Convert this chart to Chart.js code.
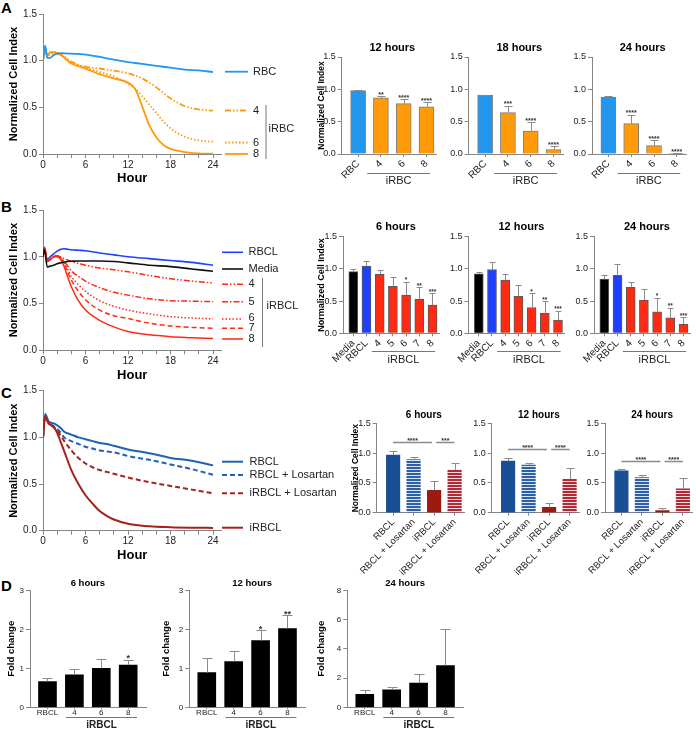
<!DOCTYPE html>
<html><head><meta charset="utf-8"><title>Normalized Cell Index</title>
<script src="https://cdn.jsdelivr.net/npm/chart.js@4.4.1/dist/chart.umd.min.js"></script>
<style>
html,body{margin:0;padding:0;background:#fff;}
#wrap{position:relative;width:696px;height:737px;overflow:hidden;background:#fff;}
#wrap canvas{position:absolute;}
.pl{position:absolute;font:bold 15px 'Liberation Sans',Arial,sans-serif;color:#000;line-height:15px;}
</style></head><body>
<div id="wrap">
<div class="pl" style="left:1px;top:0px">A</div>
<div class="pl" style="left:1px;top:199px">B</div>
<div class="pl" style="left:1px;top:385px">C</div>
<div class="pl" style="left:1px;top:578px">D</div>
</div>
<script>
// ================= DATA =================
// Panel A – line chart
const hoursA   = [0, 0.3, 0.6, 1, 1.5, 2.5, 4, 6, 8, 10, 12, 13, 14, 15, 16, 17, 18, 20, 22, 24];
const lineA_RBC = [1.0, 1.16, 1.03, 1.03, 1.06, 1.08, 1.075, 1.065, 1.04, 1.01, 0.985, 0.975, 0.965, 0.955, 0.945, 0.935, 0.925, 0.905, 0.895, 0.878];
const lineA_i4  = [1.0, 1.12, 1.05, 1.08, 1.09, 1.07, 0.99, 0.935, 0.915, 0.893, 0.864, 0.84, 0.81, 0.765, 0.714, 0.655, 0.596, 0.514, 0.478, 0.464];
const lineA_i6  = [1.0, 1.1, 1.04, 1.07, 1.08, 1.06, 0.98, 0.925, 0.88, 0.83, 0.75, 0.7, 0.62, 0.53, 0.44, 0.35, 0.275, 0.186, 0.145, 0.132];
const lineA_i8  = [1.0, 1.14, 1.06, 1.09, 1.09, 1.06, 0.97, 0.915, 0.855, 0.81, 0.765, 0.7, 0.51, 0.31, 0.18, 0.096, 0.054, 0.02, 0.007, 0.003];
// Panel A – bars
const catsA = ['RBC', '4', '6', '8'];
const barA_12h = [0.98, 0.87, 0.78, 0.73];  const errA_12h = [0.01, 0.03, 0.07, 0.07];  const sigA_12h = ['', '**', '****', '****'];
const barA_18h = [0.91, 0.64, 0.355, 0.067]; const errA_18h = [0.01, 0.11, 0.135, 0.055]; const sigA_18h = ['', '***', '****', '****'];
const barA_24h = [0.88, 0.47, 0.13, 0.005];  const errA_24h = [0.01, 0.14, 0.09, 0.01];   const sigA_24h = ['', '****', '****', '****'];
// Panel B – line chart
const hoursB    = [0, 0.2, 0.6, 1, 1.5, 2, 2.5, 3, 3.5, 4, 5, 6, 8, 10, 12, 15, 18, 21, 24];
const lineB_RBCL  = [1.0, 1.1, 0.97, 1.0, 1.03, 1.06, 1.08, 1.085, 1.08, 1.075, 1.07, 1.065, 1.04, 1.02, 1.0, 0.98, 0.96, 0.94, 0.91];
const lineB_Media = [1.0, 1.08, 0.89, 0.9, 0.91, 0.925, 0.935, 0.945, 0.95, 0.952, 0.955, 0.955, 0.955, 0.95, 0.935, 0.91, 0.895, 0.87, 0.845];
const lineB_i4 = [1.0, 1.1, 0.95, 0.97, 1.0, 1.01, 1.0, 0.98, 0.965, 0.95, 0.93, 0.91, 0.88, 0.86, 0.84, 0.8, 0.765, 0.74, 0.72];
const lineB_i5 = [1.0, 1.1, 0.95, 0.97, 1.0, 1.01, 0.99, 0.95, 0.9, 0.85, 0.79, 0.74, 0.67, 0.62, 0.59, 0.55, 0.53, 0.525, 0.52];
const lineB_i6 = [1.0, 1.1, 0.95, 0.97, 1.0, 1.01, 0.985, 0.93, 0.86, 0.79, 0.7, 0.63, 0.53, 0.47, 0.43, 0.39, 0.36, 0.345, 0.336];
const lineB_i7 = [1.0, 1.1, 0.95, 0.97, 1.0, 1.01, 0.98, 0.92, 0.83, 0.75, 0.63, 0.54, 0.43, 0.37, 0.34, 0.29, 0.26, 0.245, 0.236];
const lineB_i8 = [1.0, 1.1, 0.95, 0.97, 1.0, 1.0, 0.97, 0.89, 0.78, 0.68, 0.53, 0.43, 0.32, 0.25, 0.2, 0.165, 0.146, 0.135, 0.125];
// Panel B – bars
const catsB = ['Media', 'RBCL', '4', '5', '6', '7', '8'];
const barB_6h  = [0.957, 1.045, 0.916, 0.73, 0.595, 0.533, 0.44]; const errB_6h  = [0.04, 0.075, 0.06, 0.15, 0.205, 0.18, 0.18];
const barB_12h = [0.925, 0.99, 0.825, 0.575, 0.4, 0.31, 0.205];   const errB_12h = [0.03, 0.12, 0.1, 0.175, 0.225, 0.19, 0.145];
const barB_24h = [0.84, 0.9, 0.715, 0.515, 0.335, 0.24, 0.145];   const errB_24h = [0.06, 0.18, 0.075, 0.18, 0.22, 0.16, 0.105];
const sigB = ['', '', '', '', '*', '**', '***'];
// Panel C – line chart
const hoursC = [0, 0.3, 0.8, 1.5, 2, 2.5, 3, 4, 5, 6, 7, 8, 9, 10, 12, 15, 18, 21, 24];
const lineC_RBCL   = [1.0, 1.25, 1.17, 1.15, 1.13, 1.1, 1.06, 1.03, 1.0, 0.98, 0.96, 0.94, 0.93, 0.91, 0.87, 0.83, 0.78, 0.75, 0.70];
const lineC_RBCLL  = [1.0, 1.23, 1.16, 1.12, 1.09, 1.05, 1.0, 0.96, 0.93, 0.9, 0.88, 0.86, 0.85, 0.84, 0.8, 0.76, 0.71, 0.66, 0.60];
const lineC_iRBCLL = [1.0, 1.22, 1.15, 1.11, 1.07, 1.02, 0.96, 0.86, 0.78, 0.72, 0.68, 0.65, 0.63, 0.61, 0.57, 0.52, 0.48, 0.44, 0.40];
const lineC_iRBCL  = [1.0, 1.22, 1.15, 1.11, 1.05, 0.95, 0.85, 0.65, 0.5, 0.38, 0.29, 0.21, 0.16, 0.12, 0.075, 0.047, 0.037, 0.032, 0.03];
// Panel C – bars
const catsC = ['RBCL', 'RBCL + Losartan', 'iRBCL', 'iRBCL + Losartan'];
const barC_6h  = [0.97, 0.895, 0.375, 0.72]; const errC_6h  = [0.07, 0.035, 0.15, 0.11];
const barC_12h = [0.87, 0.8, 0.09, 0.565];   const errC_12h = [0.05, 0.03, 0.08, 0.195];
const barC_24h = [0.705, 0.59, 0.035, 0.4];  const errC_24h = [0.035, 0.04, 0.04, 0.18];
const sigC_6h  = [{a: 0, b: 1.9, v: 1.19, t: '****'}, {a: 2.1, b: 3, v: 1.19, t: '***'}];
const sigC_12h = [{a: 0, b: 1.9, v: 1.065, t: '****'}, {a: 2.1, b: 3, v: 1.065, t: '****'}];
const sigC_24h = [{a: 0, b: 1.9, v: 0.875, t: '****'}, {a: 2.1, b: 3, v: 0.875, t: '****'}];
// Panel D – bars (fold change)
const catsD = ['RBCL', '4', '6', '8'];
const barD_6h  = [0.66, 0.83, 1.0, 1.08];  const errD_6h  = [0.1, 0.16, 0.25, 0.13];  const sigD_6h  = ['', '', '', '*'];
const barD_12h = [0.89, 1.17, 1.71, 2.02]; const errD_12h = [0.38, 0.27, 0.26, 0.34]; const sigD_12h = ['', '', '*', '**'];
const barD_24h = [0.89, 1.19, 1.65, 2.86]; const errD_24h = [0.3, 0.23, 0.61, 2.49]; const sigD_24h = ['', '', '', ''];

// ================= RENDER =================
const FONT = "'Liberation Sans', Arial, Helvetica, sans-serif";
Chart.defaults.font.family = FONT;
Chart.defaults.color = '#222';
const AX = '#858585';
const wrap = document.getElementById('wrap');

function mkCanvas(cv) {
  const c = document.createElement('canvas');
  c.width = cv.w; c.height = cv.h;
  c.style.left = cv.x + 'px'; c.style.top = cv.y + 'px';
  c.style.width = cv.w + 'px'; c.style.height = cv.h + 'px';
  wrap.appendChild(c);
  return c;
}

function stripes(c1, c2) {
  const p = document.createElement('canvas'); p.width = 4; p.height = 3;
  const g = p.getContext('2d');
  g.fillStyle = c1; g.fillRect(0, 0, 4, 3);
  g.fillStyle = c2; g.fillRect(0, 2, 4, 1);
  return g.createPattern(p, 'repeat');
}

function lineChart(o) {
  const cv = o.cv;
  const R = o.L + o.xmax * o.pxh;
  const c = mkCanvas(cv);
  const ytLH = o.ytSize * 1.2;
  const hourTicks = []; for (let h = 0; h <= 24; h += 2) hourTicks.push(h);
  new Chart(c, {
    type: 'line',
    data: { datasets: o.series.map(s => ({
      data: o.hours.map((h, i) => ({ x: h, y: s.vals[i] })),
      borderColor: s.color, borderWidth: s.w, borderDash: s.dash || [], pointRadius: 0, fill: false,
      cubicInterpolationMode: 'monotone', borderCapStyle: 'butt'
    })) },
    options: {
      responsive: false, animation: false, events: [],
      layout: { padding: { left: 0, top: o.T - cv.y, right: cv.x + cv.w - R, bottom: 0 } },
      plugins: { legend: { display: false }, tooltip: { enabled: false }, title: { display: false } },
      scales: {
        x: { type: 'linear', min: 0, max: o.xmax, bounds: 'data',
          afterBuildTicks: s => { s.ticks = hourTicks.map(v => ({ value: v })); },
          ticks: { autoSkip: false, minRotation: 0, maxRotation: 0, padding: 1, color: '#222', font: { size: 10 },
                   callback: v => (v % 6 === 0 ? String(v) : '') },
          grid: { drawOnChartArea: false, drawTicks: true, tickLength: 4, tickColor: AX },
          border: { display: true, color: AX, width: 1 },
          title: { display: true, text: 'Hour', color: '#000', font: { size: 13, weight: 'bold' }, padding: { top: 0, bottom: 0 } },
          afterFit: s => { s.height = cv.y + cv.h - o.B; s.paddingLeft = 0; s.paddingRight = 0; }
        },
        y: { type: 'linear', min: 0, max: 1.5, bounds: 'data',
          afterBuildTicks: s => { s.ticks = [0, 0.5, 1, 1.5].map(v => ({ value: v })); },
          ticks: { padding: 2, color: '#222', font: { size: 10 }, callback: v => Number(v).toFixed(1) },
          grid: { drawOnChartArea: false, drawTicks: true, tickLength: 4, tickColor: AX },
          border: { display: true, color: AX, width: 1 },
          title: { display: true, text: 'Normalized Cell Index', color: '#000', font: { size: o.ytSize, weight: 'bold' },
                   padding: { top: o.ytX - cv.x - ytLH / 2, bottom: 0 } },
          afterFit: s => { s.width = o.L - cv.x; s.paddingTop = 0; s.paddingBottom = 0; }
        }
      }
    },
    plugins: [{ id: 'lineLegend', afterDraw(ch) {
      const ctx = ch.ctx; ctx.save();
      o.series.forEach(s => {
        const y = s.ly - cv.y;
        ctx.strokeStyle = s.color; ctx.lineWidth = s.w; ctx.setLineDash(s.dash || []);
        ctx.beginPath(); ctx.moveTo(o.lx1 - cv.x, y); ctx.lineTo(o.lx2 - cv.x, y); ctx.stroke();
        ctx.setLineDash([]);
        ctx.fillStyle = '#222'; ctx.font = '11px ' + FONT; ctx.textAlign = 'left'; ctx.textBaseline = 'middle';
        ctx.fillText(s.label, o.tx - cv.x, (s.ty || s.ly) - cv.y);
      });
      if (o.bracket) {
        const b = o.bracket;
        ctx.strokeStyle = '#777'; ctx.lineWidth = 1;
        ctx.beginPath(); ctx.moveTo(b.x - cv.x + 0.5, b.y1 - cv.y); ctx.lineTo(b.x - cv.x + 0.5, b.y2 - cv.y); ctx.stroke();
        ctx.fillStyle = '#222'; ctx.font = '11px ' + FONT; ctx.textAlign = 'left'; ctx.textBaseline = 'middle';
        ctx.fillText(b.text, b.tx - cv.x, b.ty - cv.y);
      }
      ctx.restore();
    } }]
  });
}

function barChart(g, o) {
  const L = o.L, R = L + (g.xmax - g.xmin) * g.sp;
  const cx = Math.floor(L - g.yw), cy = g.top;
  const cv = { x: cx, y: cy, w: Math.ceil(R + 5 - cx), h: g.bottom - g.top };
  const c = mkCanvas(cv);
  const ymax = o.ymax || g.ymax, ystep = o.ystep || g.ystep;
  const yt = []; for (let v = 0; v <= ymax + 1e-9; v += ystep) yt.push(+v.toFixed(3));
  const ytSize = o.ytSize || 9, ytLH = ytSize * 1.2;
  new Chart(c, {
    type: 'bar',
    data: { datasets: [{
      data: o.vals.map((v, i) => ({ x: i, y: v })),
      backgroundColor: o.colors, borderColor: o.borders || 'rgba(0,0,0,0)', borderWidth: o.borders ? 1 : 0,
      barThickness: g.bw, borderSkipped: 'start'
    }] },
    options: {
      responsive: false, animation: false, events: [],
      layout: { padding: { left: 0, top: g.T - cy, right: cv.x + cv.w - R, bottom: 0 } },
      plugins: { legend: { display: false }, tooltip: { enabled: false }, title: { display: false } },
      scales: {
        x: { type: 'linear', min: g.xmin, max: g.xmax, bounds: 'data', offset: false,
          afterBuildTicks: s => { s.ticks = o.labels.map((_, i) => ({ value: i })); },
          ticks: { autoSkip: false, minRotation: g.rot, maxRotation: g.rot, padding: g.tpad, color: '#222',
                   font: { size: g.tickSize }, callback: v => o.labels[v] },
          grid: { offset: false, drawOnChartArea: false, drawTicks: true, tickLength: g.xtl, tickColor: AX },
          border: { display: true, color: AX, width: 1 },
          afterFit: s => { s.height = cy + cv.h - g.B; s.paddingLeft = 0; s.paddingRight = 0; }
        },
        y: { type: 'linear', min: 0, max: ymax, bounds: 'data',
          afterBuildTicks: s => { s.ticks = yt.map(v => ({ value: v })); },
          ticks: { padding: 2, color: '#222', font: { size: g.yTickSize }, callback: v => Number(v).toFixed(g.dec) },
          grid: { drawOnChartArea: false, drawTicks: true, tickLength: 4, tickColor: AX },
          border: { display: true, color: AX, width: 1 },
          title: { display: !!o.ytitle, text: o.ytitle || '', color: '#000', font: { size: ytSize, weight: 'bold' },
                   padding: { top: o.ytitle ? Math.max(0, o.ytX - cx - ytLH / 2) : 0, bottom: 0 } },
          afterFit: s => { s.width = L - cx; s.paddingTop = 0; s.paddingBottom = 0; }
        }
      }
    },
    plugins: [{ id: 'barExtras', afterDraw(ch) {
      const ctx = ch.ctx, xs = ch.scales.x, ys = ch.scales.y;
      ctx.save();
      // error bars (upper)
      ctx.strokeStyle = '#8a8a8a'; ctx.lineWidth = 1;
      o.vals.forEach((v, i) => {
        const e = o.errs[i]; if (!e) return;
        const px = Math.round(xs.getPixelForValue(i)) + 0.5;
        const y0 = ys.getPixelForValue(v), y1 = Math.round(ys.getPixelForValue(v + e)) + 0.5;
        ctx.beginPath(); ctx.moveTo(px, y0); ctx.lineTo(px, y1);
        ctx.moveTo(px - g.cap, y1); ctx.lineTo(px + g.cap, y1); ctx.stroke();
      });
      // significance stars above bars
      ctx.fillStyle = '#333'; ctx.textAlign = 'center'; ctx.textBaseline = 'alphabetic';
      ctx.font = 'bold ' + g.starSize + 'px ' + FONT;
      (o.stars || []).forEach((t, i) => {
        if (!t) return;
        const px = xs.getPixelForValue(i), y1 = ys.getPixelForValue(o.vals[i] + o.errs[i]);
        ctx.fillText(t, px, y1 - 1 + g.starSize * 0.25);
      });
      // comparison lines (panel C)
      (o.sig || []).forEach(s => {
        const y = Math.round(ys.getPixelForValue(s.v)) + 0.5;
        const xa = xs.getPixelForValue(s.a), xb = xs.getPixelForValue(s.b);
        ctx.strokeStyle = '#8a8a8a'; ctx.lineWidth = 1.5;
        ctx.beginPath(); ctx.moveTo(xa, y); ctx.lineTo(xb, y); ctx.stroke();
        ctx.fillText(s.t, (xa + xb) / 2, y - 1.5 + g.starSize * 0.25);
      });
      // group bracket below axis labels
      if (g.br) {
        const b = g.br, y = Math.round(b.y - cy) + 0.5;
        const xa = xs.getPixelForValue(b.a), xb = xs.getPixelForValue(b.b);
        ctx.strokeStyle = '#777'; ctx.lineWidth = 1;
        ctx.beginPath(); ctx.moveTo(xa, y); ctx.lineTo(xb, y); ctx.stroke();
        ctx.fillStyle = '#222'; ctx.font = (b.bold ? 'bold ' : '') + b.size + 'px ' + FONT;
        ctx.textAlign = 'center'; ctx.textBaseline = 'middle';
        ctx.fillText(b.text, (xa + xb) / 2, b.ty - cy);
      }
      // chart title
      ctx.fillStyle = '#000'; ctx.font = 'bold ' + g.titleSize + 'px ' + FONT;
      ctx.textAlign = 'center'; ctx.textBaseline = 'middle';
      const tx = (xs.getPixelForValue(0) + xs.getPixelForValue(o.labels.length - 1)) / 2 + (o.tdx || 0);
      ctx.fillText(o.title, tx, g.titleY - cy);
      ctx.restore();
    } }]
  });
}

// ---------- Panel A ----------
const BLUE_A = '#2496ee', ORANGE = '#ff9a0a';
lineChart({
  cv: { x: 0, y: 0, w: 300, h: 186 }, L: 43, T: 14, B: 154, xmax: 25.2, pxh: 170 / 24,
  ytSize: 11, ytX: 14, hours: hoursA, lx1: 225, lx2: 248, tx: 253,
  series: [
    { label: 'RBC', vals: lineA_RBC, color: BLUE_A, w: 1.8, ly: 71.7 },
    { label: '4', vals: lineA_i4, color: ORANGE, w: 1.8, dash: [6, 2, 1.5, 2, 1.5, 2], ly: 110.5 },
    { label: '6', vals: lineA_i6, color: ORANGE, w: 1.8, dash: [1.5, 2], ly: 142.5 },
    { label: '8', vals: lineA_i8, color: ORANGE, w: 1.8, ly: 154 }
  ],
  bracket: { x: 265.5, y1: 105, y2: 159, text: 'iRBC', tx: 268.5, ty: 128.5 }
});
const gA = { sp: 22.8, xmin: -0.72, xmax: 3.44, T: 57, B: 154, top: 36, bottom: 192, yw: 45, titleY: 48, titleSize: 11,
  bw: 15, cap: 4, tickSize: 10, yTickSize: 9, tpad: 1, xtl: 3, rot: 45, starSize: 7, ymax: 1.5, ystep: 0.5, dec: 1,
  br: { a: 0.4, b: 3.15, y: 173, ty: 181, text: 'iRBC', size: 11, bold: false } };
const colA = [BLUE_A, ORANGE, ORANGE, ORANGE];
barChart(gA, { L: 341.7, title: '12 hours', labels: catsA, vals: barA_12h, errs: errA_12h, stars: sigA_12h, colors: colA, borders: '#7d7d7d', ytitle: 'Normalized Cell Index', ytSize: 8.5, ytX: 321.7 });
barChart(gA, { L: 468.7, title: '18 hours', labels: catsA, vals: barA_18h, errs: errA_18h, stars: sigA_18h, colors: colA, borders: '#7d7d7d' });
barChart(gA, { L: 592, title: '24 hours', labels: catsA, vals: barA_24h, errs: errA_24h, stars: sigA_24h, colors: colA, borders: '#7d7d7d' });

// ---------- Panel B ----------
const BLUE_B = '#2040ff', RED_B = '#ff2a12';
lineChart({
  cv: { x: 0, y: 195, w: 300, h: 188 }, L: 43, T: 210, B: 350.3, xmax: 25.2, pxh: 170 / 24,
  ytSize: 11, ytX: 14, hours: hoursB, lx1: 222, lx2: 243, tx: 248.5,
  series: [
    { label: 'Media', vals: lineB_Media, color: '#111', w: 1.6, ly: 269 },
    { label: '4', vals: lineB_i4, color: RED_B, w: 1.5, dash: [6, 2, 1.5, 2, 1.5, 2], ly: 284.3 },
    { label: '5', vals: lineB_i5, color: RED_B, w: 1.5, dash: [6, 2, 1.5, 2], ly: 301.7 },
    { label: '6', vals: lineB_i6, color: RED_B, w: 1.5, dash: [1.5, 2], ly: 319, ty: 318 },
    { label: '7', vals: lineB_i7, color: RED_B, w: 1.5, dash: [5, 3], ly: 328.3 },
    { label: '8', vals: lineB_i8, color: RED_B, w: 1.5, ly: 339 },
    { label: 'RBCL', vals: lineB_RBCL, color: BLUE_B, w: 1.6, ly: 252.3 }
  ],
  bracket: { x: 262, y1: 278, y2: 347, text: 'iRBCL', tx: 266.5, ty: 306 }
});
const gB = { sp: 13.2, xmin: -0.78, xmax: 6.52, T: 236.7, B: 333.3, top: 215, bottom: 372, yw: 45, titleY: 227.3, titleSize: 11,
  bw: 9, cap: 3, tickSize: 10, yTickSize: 9, tpad: 1, xtl: 3, rot: 45, starSize: 6.5, ymax: 1.5, ystep: 0.5, dec: 1,
  br: { a: 1.4, b: 6.2, y: 351, ty: 360, text: 'iRBCL', size: 11, bold: false } };
const colB = ['#000', BLUE_B, RED_B, RED_B, RED_B, RED_B, RED_B];
barChart(gB, { L: 343, title: '6 hours', tdx: 3, labels: catsB, vals: barB_6h, errs: errB_6h, stars: sigB, colors: colB, borders: '#5a5a5a', ytitle: 'Normalized Cell Index', ytSize: 9, ytX: 321.5 });
barChart(gB, { L: 468.5, title: '12 hours', tdx: 3, labels: catsB, vals: barB_12h, errs: errB_12h, stars: sigB, colors: colB, borders: '#5a5a5a' });
barChart(gB, { L: 594, title: '24 hours', tdx: 3, labels: catsB, vals: barB_24h, errs: errB_24h, stars: sigB, colors: colB, borders: '#5a5a5a' });

// ---------- Panel C ----------
const BLUE_C = '#1f62ad', RED_C = '#a8221d';
lineChart({
  cv: { x: 0, y: 381, w: 350, h: 182 }, L: 43, T: 390.7, B: 530.7, xmax: 25.2, pxh: 170 / 24,
  ytSize: 11, ytX: 14, hours: hoursC, lx1: 222, lx2: 243, tx: 249.5,
  series: [
    { label: 'iRBCL', vals: lineC_iRBCL, color: RED_C, w: 2, ly: 527.7 },
    { label: 'iRBCL + Losartan', vals: lineC_iRBCLL, color: RED_C, w: 2, dash: [5, 3], ly: 493.3 },
    { label: 'RBCL + Losartan', vals: lineC_RBCLL, color: BLUE_C, w: 2, dash: [5, 3], ly: 475 },
    { label: 'RBCL', vals: lineC_RBCL, color: BLUE_C, w: 2, ly: 461.7 }
  ]
});
const gC = { sp: 20.5, xmin: -0.8, xmax: 3.49, T: 423.5, B: 512.7, top: 404, bottom: 582, yw: 45, titleY: 415, titleSize: 10,
  bw: 13.5, cap: 4, tickSize: 9.5, yTickSize: 9, tpad: 1, xtl: 3, rot: 45, starSize: 7, ymax: 1.5, ystep: 0.5, dec: 1, br: null };
const colC = ['#1b4f95', stripes('#2d5fa3', '#dce5f1'), '#9c1b10', stripes('#b02a36', '#f4dde0')];
barChart(gC, { L: 376.7, title: '6 hours', labels: catsC, vals: barC_6h, errs: errC_6h, sig: sigC_6h, colors: colC, ytitle: 'Normalized Cell Index', ytSize: 8.5, ytX: 356 });
barChart(gC, { L: 491.7, title: '12 hours', labels: catsC, vals: barC_12h, errs: errC_12h, sig: sigC_12h, colors: colC });
barChart(gC, { L: 605, title: '24 hours', labels: catsC, vals: barC_24h, errs: errC_24h, sig: sigC_24h, colors: colC });

// ---------- Panel D ----------
const gD = { sp: 26.9, xmin: -0.65, xmax: 3.67, T: 590.3, B: 707.3, top: 574, bottom: 737, yw: 35, titleY: 583, titleSize: 9.5,
  bw: 18, cap: 5, tickSize: 8, yTickSize: 8, tpad: -1, xtl: 2, rot: 0, starSize: 9, ymax: 3, ystep: 1, dec: 0,
  br: { a: 0.69, b: 3.33, y: 716.5, ty: 725, text: 'iRBCL', size: 10, bold: true } };
const colD = ['#000', '#000', '#000', '#000'];
barChart(gD, { L: 30, title: '6 hours', labels: catsD, vals: barD_6h, errs: errD_6h, stars: sigD_6h, colors: colD, ytitle: 'Fold change', ytSize: 9.5, ytX: 11.7 });
barChart(gD, { L: 189.3, title: '12 hours', tdx: 5, labels: catsD, vals: barD_12h, errs: errD_12h, stars: sigD_12h, colors: colD, ytitle: 'Fold change', ytSize: 9.5, ytX: 166.7 });
barChart(gD, { L: 347.3, title: '24 hours', labels: catsD, vals: barD_24h, errs: errD_24h, stars: sigD_24h, colors: colD, ytitle: 'Fold change', ytSize: 9.5, ytX: 321.7, ymax: 8, ystep: 2 });
</script>
</body></html>
